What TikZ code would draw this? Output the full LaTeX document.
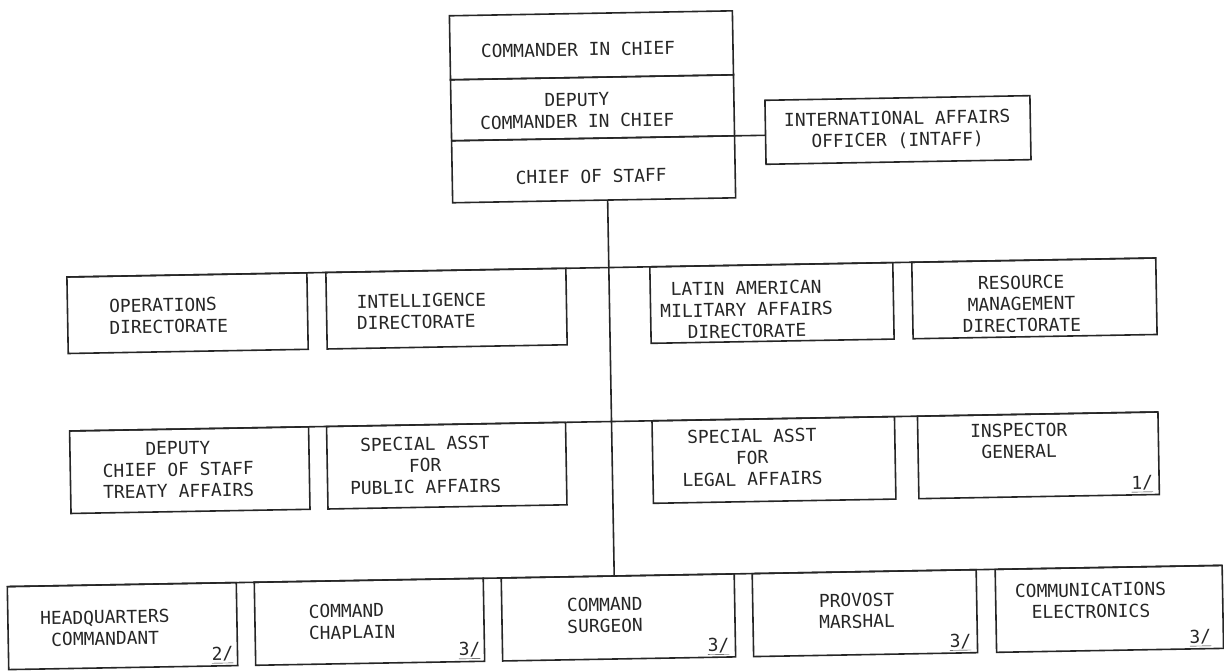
\documentclass[tikz,border=0pt]{standalone}
\usepackage{fontspec}
\newfontfamily\tfont{DejaVu Sans Mono}
\begin{document}
\begin{tikzpicture}[x=1pt,y=-1pt,
  box/.style={draw=black!85, line width=1.6pt, anchor=north west, inner sep=0pt, outer sep=0pt},
  txt/.style={font=\tfont\fontsize{17.9}{21.5}\selectfont, text=black!85, align=center, inner sep=0pt},
  txtl/.style={txt, align=left},
  fn/.style={font=\tfont\fontsize{17.9}{21.5}\selectfont, text=black!85, inner sep=0pt, anchor=south east},
  wire/.style={draw=black!85, line width=1.6pt}]
\useasboundingbox (0,0) rectangle (1224,671);
\begin{scope}[rotate around={1:(612,335)}, transform shape]
% top stack
\node[box, minimum width=283pt, minimum height=64pt] (cinc) at (455,13) {};
\node[box, minimum width=283pt, minimum height=61pt] (dcinc) at (455,77) {};
\node[box, minimum width=283pt, minimum height=62pt] (cos) at (455,138) {};
\node[box, minimum width=265pt, minimum height=64pt] (intaff) at (769,103) {};
\node[txt] (tcinc) at (583,49) {COMMANDER IN CHIEF};
\node[txt] (tdcinc) at (581,110) {DEPUTY\\COMMANDER IN CHIEF};
\node[txt] (tcos) at (594,176) {CHIEF OF STAFF};
\node[txt] (tintaff) at (901,135) {INTERNATIONAL AFFAIRS\\OFFICER (INTAFF)};
% row 1
\node[box, minimum width=240pt, minimum height=76.5pt] (ops) at (68,267.5) {};
\node[box, minimum width=240pt, minimum height=76.5pt] (intel) at (327,267.5) {};
\node[box, minimum width=243pt, minimum height=76.5pt] (latin) at (651,267.5) {};
\node[box, minimum width=244pt, minimum height=76.5pt] (res) at (913,267.5) {};
\node[txtl] (tops) at (169,308) {OPERATIONS\\DIRECTORATE};
\node[txtl] (tintel) at (422,308) {INTELLIGENCE\\DIRECTORATE};
\node[txt] (tlatin) at (747,312) {LATIN AMERICAN\\MILITARY AFFAIRS\\DIRECTORATE};
\node[txt] (tres) at (1022,311) {RESOURCE\\MANAGEMENT\\DIRECTORATE};
% row 2
\node[box, minimum width=239pt, minimum height=82.5pt] (dcos) at (68,421.5) {};
\node[box, minimum width=239pt, minimum height=82.5pt] (pub) at (325,421.5) {};
\node[box, minimum width=242.5pt, minimum height=82.5pt] (legal) at (650.5,421.5) {};
\node[box, minimum width=240.5pt, minimum height=82.5pt] (ig) at (916,421.5) {};
\node[txt] (tdcos) at (176,462) {DEPUTY\\CHIEF OF STAFF\\TREATY AFFAIRS};
\node[txt] (tpub) at (423,462) {SPECIAL ASST\\FOR\\PUBLIC AFFAIRS};
\node[txt] (tlegal) at (750,460) {SPECIAL ASST\\FOR\\LEGAL AFFAIRS};
\node[txt] (tig) at (1017,448) {INSPECTOR\\GENERAL};
\node[fn] (nig) at ([xshift=-6pt,yshift=2pt]ig.south east) {\underline{1/}};
% row 3
\node[box, minimum width=229pt, minimum height=83pt] (hq) at (3,576) {};
\node[box, minimum width=229pt, minimum height=83pt] (chap) at (250,576) {};
\node[box, minimum width=233pt, minimum height=83pt] (surg) at (497,576) {};
\node[box, minimum width=224pt, minimum height=83pt] (prov) at (748,576) {};
\node[box, minimum width=227pt, minimum height=83pt] (comm) at (991,576) {};
\node[txt] (thq) at (100,619) {HEADQUARTERS\\COMMANDANT};
\node[txtl] (tchap) at (347,617) {COMMAND\\CHAPLAIN};
\node[txt] (tsurg) at (600,615) {COMMAND\\SURGEON};
\node[txt] (tprov) at (852,615) {PROVOST\\MARSHAL};
\node[txt] (tcomm) at (1086,609) {COMMUNICATIONS\\ELECTRONICS};
\node[fn] (nhq) at ([xshift=-4pt,yshift=2pt]hq.south east) {\underline{2/}};
\node[fn] (nchap) at ([xshift=-4pt,yshift=2pt]chap.south east) {\underline{3/}};
\node[fn] (nsurg) at ([xshift=-6pt,yshift=2pt]surg.south east) {\underline{3/}};
\node[fn] (nprov) at ([xshift=-6pt,yshift=2pt]prov.south east) {\underline{3/}};
\node[fn] (ncomm) at ([xshift=-12pt,yshift=2pt]comm.south east) {\underline{3/}};
% connectors
\draw[wire] ([yshift=-3pt]intaff.west) -- ([yshift=-3pt]intaff.west -| dcinc.east);
\coordinate (t) at (610,200);
\draw[wire] (t) -- (t |- hq.north);
\draw[wire] (ops.north west) -- (res.north east);
\draw[wire] (dcos.north west) -- (ig.north east);
\draw[wire] (hq.north west) -- (comm.north east);
\end{scope}
\end{tikzpicture}
\end{document}
